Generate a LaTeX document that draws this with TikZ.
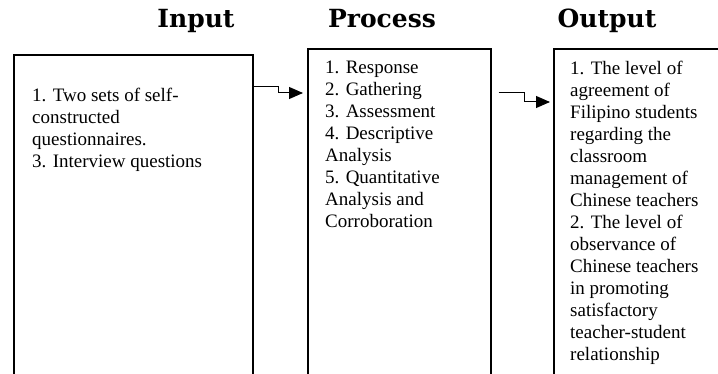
\documentclass[tikz,border=0pt]{standalone}
\usepackage{fontspec}
\setmainfont{Liberation Serif}
\newfontfamily\headfont{DejaVu Serif}
\usepackage{tikz}
\usetikzlibrary{arrows.meta, positioning}

\begin{document}
\begin{tikzpicture}[x=1pt, y=-1pt,
    box/.style={draw, line width=1.6pt, inner sep=0pt, anchor=north west, minimum height=340pt},
    txt/.style={inner sep=0pt, align=left, font=\fontsize{19}{22}\selectfont},
    head/.style={anchor=base, inner sep=0pt, font=\headfont\bfseries\fontsize{25}{30}\selectfont},
    arr/.style={line width=1pt, -{Triangle[length=14pt, width=12pt]}}]

    \useasboundingbox (0,0) rectangle (718,374);
    \clip (0,0) rectangle (718,374);

    \node[box, minimum width=239pt] (I) at (13,54) {};
    \node[box, minimum width=183pt] (P) at (307,48) {};
    \node[box, minimum width=180pt] (O) at (553,48) {};

    \node[head] (Ih) at (196,28) {Input};
    \node[head] (Ph) at (382,28) {Process};
    \node[head] (Oh) at (607,28) {Output};

    \node[txt, below right=34pt and 19pt of I.north west] (It)
        {1. Two sets of self-\\constructed\\questionnaires.\\3. Interview questions};
    \node[txt, below right=13pt and 18pt of P.north west] (Pt)
        {1. Response\\2. Gathering\\3. Assessment\\4. Descriptive\\Analysis\\5. Quantitative\\Analysis and\\Corroboration};
    \node[txt, below right=13pt and 17pt of O.north west] (Ot)
        {1. The level of\\agreement of\\Filipino students\\regarding the\\classroom\\management of\\Chinese teachers\\2. The level of\\observance of\\Chinese teachers\\in promoting\\satisfactory\\teacher-student\\relationship};

    \draw[arr, shorten >=4pt] ([yshift=-33pt]I.north east) -- ++(25,0) |- ([yshift=-45pt]P.north west);
    \draw[arr, shorten <=7pt, shorten >=3pt] ([yshift=-45pt]P.north east) -- ++(33,0) |- ([yshift=-54pt]O.north west);
\end{tikzpicture}
\end{document}
